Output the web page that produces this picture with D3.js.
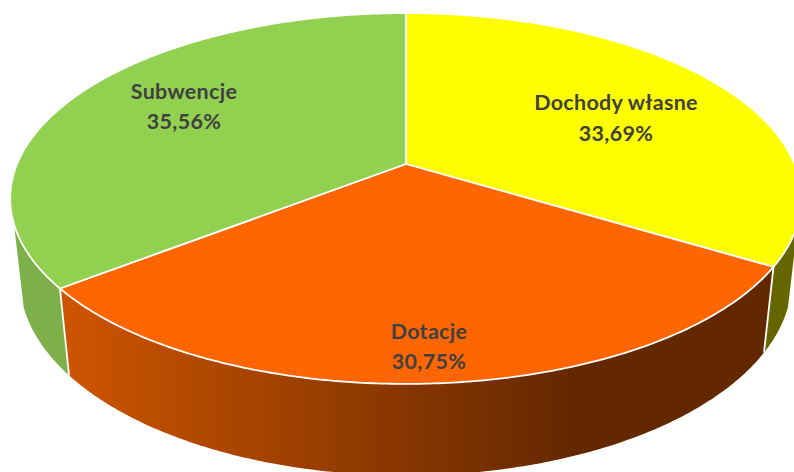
<!DOCTYPE html>
<html>
<head>
<meta charset="utf-8">
<script src="https://cdn.jsdelivr.net/npm/d3@7"></script>
<style>
  html, body { margin: 0; padding: 0; background: #fff; overflow: hidden; }
  text { font-family: Lato, "Open Sans", sans-serif; font-weight: 700; font-size: 21.5px; letter-spacing: 0.3px; fill: #404040; text-anchor: middle; }
</style>
</head>
<body>
<div id="chart"></div>
<script>
const categories = ["Dochody własne", "Dotacje", "Subwencje"];
const shares = [33.69, 30.75, 35.56];
const topColors = ["#ffff00", "#ff6600", "#92d050"];

// label centres, first and second line
const labelPos = [[616, 102, 133], [429, 331, 361], [184, 91, 121]];

const width = 794, height = 472;

// perspective of the tilted disc
const cx = 405.8, cy = 164;
const R = 388.7, B = 179, k = 0.186;
const D = 82, q = 0.024;

function project(a, low) {
    let x = Math.sin(a), z = -Math.cos(a);
    let w = 1 / (1 - k * z + (low ? q : 0));
    return [cx + R * x * w, cy + (B * z + (low ? D : 0)) * w];
}

function arcPoints(a0, a1, low) {
    let n = Math.max(2, Math.ceil((a1 - a0) / 0.01));
    return d3.range(n + 1).map(i => project(a0 + (a1 - a0) * i / n, low));
}

const slices = d3.pie().sort(null).value(d => d)(shares);
const line = d3.line();

const svg = d3.select("#chart").append("svg")
    .attr("width", width)
    .attr("height", height)
    .style("display", "block");

let grad = svg.append("defs").append("linearGradient")
    .attr("id", "wallOrange")
    .attr("gradientUnits", "userSpaceOnUse")
    .attr("x1", 60).attr("x2", 570).attr("y1", 0).attr("y2", 0);
grad.append("stop").attr("offset", 0).attr("stop-color", "#cf5500");
grad.append("stop").attr("offset", 1).attr("stop-color", "#642800");

const wallColors = ["#666600", "url(#wallOrange)", "#7eb049"];

// wall stops at the silhouette, past it the fold would leave a gap in the fill
const wallFrom = 1.89, wallTo = 4.39;

let walls = svg.append("g").attr("class", "walls");
slices.forEach((s, i) => {
    let a0 = Math.max(s.startAngle, wallFrom), a1 = Math.min(s.endAngle, wallTo);
    let pts = arcPoints(a0, a1, false).concat(arcPoints(a0, a1, true).reverse());
    walls.append("path")
        .attr("d", line(pts) + "Z")
        .attr("fill", wallColors[i]);
});

// white seams between the walls
slices.slice(1).forEach(s => {
    walls.append("path")
        .attr("d", line([project(s.startAngle, false), project(s.startAngle, true)]))
        .attr("stroke", "#fff")
        .attr("stroke-width", 1.8)
        .attr("fill", "none");
});

let disc = svg.append("g").attr("class", "disc");
slices.forEach((s, i) => {
    let pts = [[cx, cy]].concat(arcPoints(s.startAngle, s.endAngle, false));
    disc.append("path")
        .attr("d", line(pts) + "Z")
        .attr("fill", topColors[i])
        .attr("stroke", "#fff")
        .attr("stroke-width", 1.8)
        .attr("stroke-linejoin", "round");
});

let labels = svg.append("g").attr("class", "labels");
categories.forEach((c, i) => {
    labels.append("text")
        .attr("x", labelPos[i][0]).attr("y", labelPos[i][1])
        .attr("dy", "0.35em")
        .text(c);
    labels.append("text")
        .attr("x", labelPos[i][0]).attr("y", labelPos[i][2])
        .attr("dy", "0.35em")
        .text(shares[i].toFixed(2).replace(".", ",") + "%");
});
</script>
</body>
</html>
